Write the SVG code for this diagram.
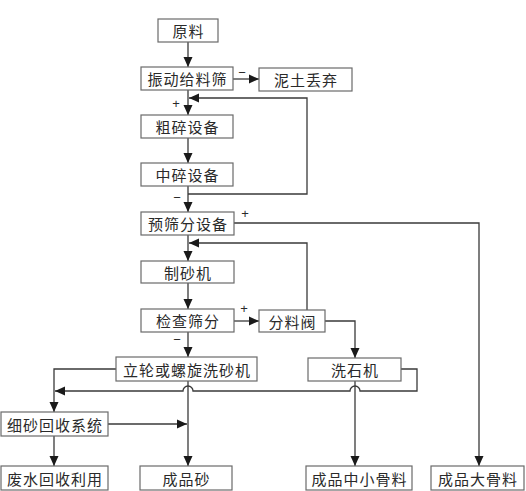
<svg xmlns="http://www.w3.org/2000/svg" width="526" height="491" viewBox="0 0 526 491">
<style>
.box{fill:#fff;stroke:#6a6a6a;stroke-width:1.2}
.t{font-family:"Noto Sans CJK SC","Noto Sans",sans-serif;font-size:15px;fill:#2a2a2a;text-anchor:middle;dominant-baseline:central;letter-spacing:1px}
.s{font-family:"Liberation Sans","Noto Sans",sans-serif;font-size:13px;fill:#2a2a2a;text-anchor:middle;dominant-baseline:central}
.c{fill:none;stroke:#3a3a3a;stroke-width:1.3}
</style>
<defs>
<marker id="ar" markerUnits="userSpaceOnUse" markerWidth="10" markerHeight="10" viewBox="0 0 10 10" refX="10" refY="5" orient="auto">
<path d="M0,0.5 L10,5 L0,9.5 Z" fill="#1a1a1a"/>
</marker>
</defs>
<rect width="526" height="491" fill="#fff"/>
<g id="connectors">
<path class="c" d="M188,42 V67" marker-end="url(#ar)"/>
<path class="c" d="M233,79 H259" marker-end="url(#ar)"/>
<path class="c" d="M188,90 V115" marker-end="url(#ar)"/>
<path class="c" d="M188,138 V163" marker-end="url(#ar)"/>
<path class="c" d="M188,186 V212" marker-end="url(#ar)"/>
<path class="c" d="M188,194 H307 V98 H189" marker-end="url(#ar)"/>
<path class="c" d="M234,223 H479 V466" marker-end="url(#ar)"/>
<path class="c" d="M188,235 V261" marker-end="url(#ar)"/>
<path class="c" d="M307,310 V243 H189" marker-end="url(#ar)"/>
<path class="c" d="M188,283 V309" marker-end="url(#ar)"/>
<path class="c" d="M234,321 H259" marker-end="url(#ar)"/>
<path class="c" d="M188,332 V357" marker-end="url(#ar)"/>
<path class="c" d="M325,321 H355 V358" marker-end="url(#ar)"/>
<path class="c" d="M401,369 H417 V391 H360 A5 5 0 0 0 350,391 H193 A5 5 0 0 0 183,391 H55" marker-end="url(#ar)"/>
<path class="c" d="M116,369 H54 V412" marker-end="url(#ar)"/>
<path class="c" d="M108,424 H187" marker-end="url(#ar)"/>
<path class="c" d="M54,436 V466" marker-end="url(#ar)"/>
<path class="c" d="M188,381 V466" marker-end="url(#ar)"/>
<path class="c" d="M355,381 V466" marker-end="url(#ar)"/>
<text class="s" x="242" y="72">−</text>
<text class="s" x="176" y="103">+</text>
<text class="s" x="177" y="197">−</text>
<text class="s" x="245" y="213">+</text>
<text class="s" x="244" y="308">+</text>
<text class="s" x="177" y="339">−</text>
</g>
<g id="n_yuanliao"><rect class="box" x="158" y="19" width="60" height="23"/><text class="t" x="188.5" y="30.5">原料</text></g>
<g id="n_zhendong"><rect class="box" x="141" y="67" width="92" height="23"/><text class="t" x="187.5" y="78.5">振动给料筛</text></g>
<g id="n_nitu"><rect class="box" x="259" y="68" width="93" height="23"/><text class="t" x="306" y="79.5">泥土丢弃</text></g>
<g id="n_cusui"><rect class="box" x="141" y="115" width="92" height="23"/><text class="t" x="187.5" y="126.5">粗碎设备</text></g>
<g id="n_zhongsui"><rect class="box" x="141" y="163" width="92" height="23"/><text class="t" x="187.5" y="174.5">中碎设备</text></g>
<g id="n_yushai"><rect class="box" x="141" y="212" width="93" height="23"/><text class="t" x="188" y="223.5">预筛分设备</text></g>
<g id="n_zhisha"><rect class="box" x="141" y="261" width="93" height="22"/><text class="t" x="188" y="272">制砂机</text></g>
<g id="n_jiancha"><rect class="box" x="141" y="309" width="93" height="23"/><text class="t" x="188" y="320.5">检查筛分</text></g>
<g id="n_fenliao"><rect class="box" x="259" y="310" width="66" height="22"/><text class="t" x="292.5" y="321">分料阀</text></g>
<g id="n_lilun"><rect class="box" x="116" y="357" width="141" height="24"/><text class="t" x="187" y="369">立轮或螺旋洗砂机</text></g>
<g id="n_xishi"><rect class="box" x="308" y="358" width="93" height="23"/><text class="t" x="355" y="369.5">洗石机</text></g>
<g id="n_xisha"><rect class="box" x="1" y="412" width="107" height="24"/><text class="t" x="55" y="424">细砂回收系统</text></g>
<g id="n_feishui"><rect class="box" x="1" y="466" width="107" height="24"/><text class="t" x="55" y="478">废水回收利用</text></g>
<g id="n_chengpinsha"><rect class="box" x="140" y="466" width="92" height="24"/><text class="t" x="186.5" y="478">成品砂</text></g>
<g id="n_zhongxiao"><rect class="box" x="306" y="466" width="106" height="24"/><text class="t" x="359.5" y="478">成品中小骨料</text></g>
<g id="n_da"><rect class="box" x="431" y="466" width="93" height="24"/><text class="t" x="478" y="478">成品大骨料</text></g>
</svg>
